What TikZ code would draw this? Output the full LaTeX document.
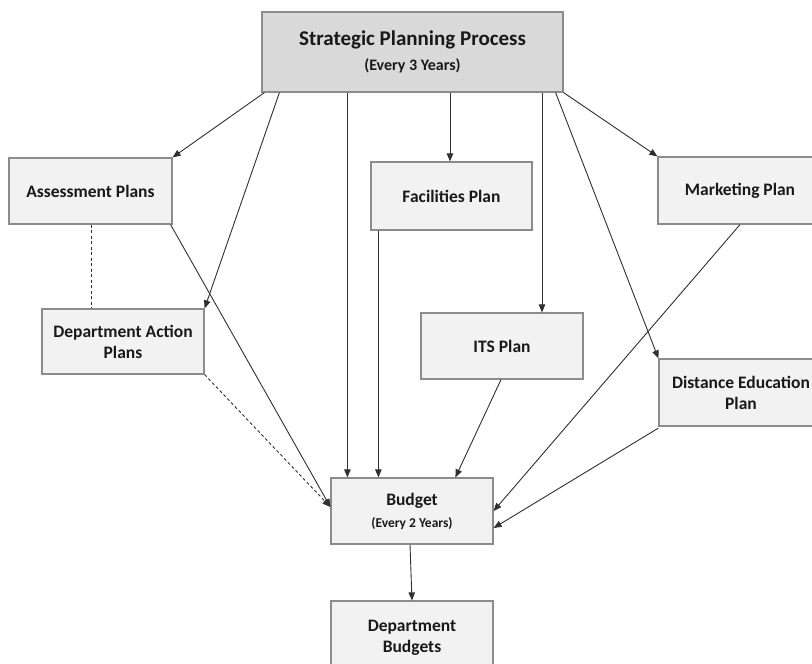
\documentclass[tikz,border=0pt]{standalone}
\usepackage{fontspec}
\setmainfont{Carlito}
\usetikzlibrary{arrows.meta}
\definecolor{boxfill}{HTML}{F2F2F2}
\definecolor{topfill}{HTML}{D9D9D9}
\definecolor{boxline}{HTML}{8C8C8C}
\definecolor{arrline}{HTML}{303030}
\tikzset{
  plainbox/.style={draw=boxline, line width=1.2pt, fill=boxfill, align=center, inner sep=0pt,
     font=\bfseries\fontsize{17.5}{21}\selectfont, text=black!90},
  topbox/.style={plainbox, fill=topfill},
  link/.style={draw=arrline, line width=0.9pt, -{Triangle[length=8pt,width=6.5pt]}},
  dlink/.style={link, dashed, dash pattern=on 3pt off 2.5pt},
  dline/.style={draw=arrline, line width=0.9pt, dashed, dash pattern=on 3pt off 2.5pt}
}
\begin{document}
\begin{tikzpicture}[x=1pt,y=-1pt]
\clip (0,0) rectangle (812,664);
\fill[white] (0,0) rectangle (812,664);
% boxes
\node[topbox, minimum width=301pt, minimum height=80pt] (top) at (412.5,52)
  {{\fontsize{21}{25}\selectfont Strategic Planning Process}\\[4pt]{\fontsize{16}{19}\selectfont (Every 3 Years)}};
\node[plainbox, minimum width=163pt, minimum height=66pt] (assess) at (90.5,191) {Assessment Plans};
\node[plainbox, minimum width=161pt, minimum height=68pt] (fac) at (451.5,196) {Facilities Plan};
\node[plainbox, minimum width=164pt, minimum height=67pt] (mkt) at (740,190.5) {Marketing Plan};
\node[plainbox, minimum width=162pt, minimum height=65pt] (dap) at (123,341.5) {Department Action\\Plans};
\node[plainbox, minimum width=162pt, minimum height=66pt] (its) at (502,346) {ITS Plan};
\node[plainbox, minimum width=164pt, minimum height=67pt] (dist) at (741,392.5) {Distance Education\\Plan};
\node[plainbox, minimum width=162pt, minimum height=66pt] (bud) at (412,511)
  {Budget\\[1pt]{\fontsize{13.5}{16}\selectfont (Every 2 Years)}};
\node[plainbox, minimum width=162pt, minimum height=74pt] (dbud) at (412,638) {Department\\Budgets};
% connectors from top
\draw[link] ([xshift=3pt]top.south west) -- (assess.north east);
\draw[link] ([xshift=18pt]top.south west) -- (dap.north east);
\draw[link] ([xshift=86pt]top.south west) -- ([xshift=17pt]bud.north west);
\draw[link] ([xshift=-1.5pt]top.south -| fac.north) -- ([xshift=-1.5pt]fac.north);
\draw[link] ([xshift=40pt]top.south -| its.north) -- ([xshift=40pt]its.north);
\draw[link] ([xshift=-8pt]top.south east) -- (dist.north west);
\draw[link] (top.south east) -- (mkt.north west);
% connectors into budget
\draw[link] ([xshift=-2pt]assess.south east) -- ([yshift=4pt]bud.west);
\draw[dlink] (dap.south east) -- ([yshift=4pt]bud.west);
\draw[dline] (assess.south -| 91,0) -- (dap.north -| 91,0);
\draw[link] ([xshift=8pt]fac.south west) -- ([xshift=48pt]bud.north west);
\draw[link] ([xshift=-1pt]its.south) -- ([xshift=125pt]bud.north west);
\draw[link] (mkt.south) -- (bud.east);
\draw[link] ([yshift=-1.5pt]dist.south west) -- ([yshift=-17pt]bud.east);
\draw[link] ([xshift=-2pt]bud.south) -- (dbud.north);
\end{tikzpicture}
\end{document}
